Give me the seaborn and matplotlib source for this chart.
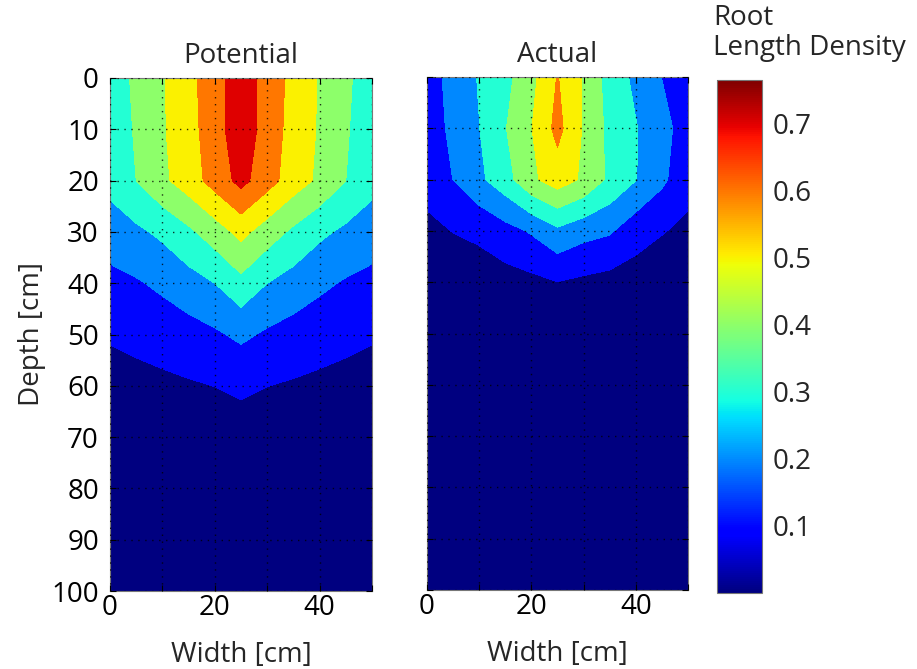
import numpy as np
import matplotlib
matplotlib.use("Agg")
import matplotlib.pyplot as plt
import seaborn as sns
from matplotlib.colors import Normalize
from matplotlib.cm import ScalarMappable

# ---------------- data ----------------
width_cm = [0, 5, 10, 15, 20, 25, 30, 35, 40, 45, 50]
depth_cm = [0, 10, 20, 30, 40, 50, 60, 70, 80, 90, 100]

potential_rld = [
    [0.34, 0.42, 0.49, 0.57, 0.66, 0.76, 0.66, 0.57, 0.49, 0.42, 0.34],
    [0.34, 0.41, 0.49, 0.56, 0.66, 0.76, 0.66, 0.56, 0.49, 0.41, 0.34],
    [0.33, 0.40, 0.48, 0.55, 0.64, 0.73, 0.64, 0.55, 0.48, 0.40, 0.33],
    [0.25, 0.28, 0.32, 0.38, 0.45, 0.53, 0.45, 0.38, 0.32, 0.28, 0.25],
    [0.17, 0.19, 0.22, 0.26, 0.30, 0.37, 0.30, 0.26, 0.22, 0.19, 0.17],
    [0.11, 0.125, 0.14, 0.16, 0.185, 0.22, 0.185, 0.16, 0.14, 0.125, 0.11],
    [0.06, 0.07, 0.08, 0.09, 0.101, 0.115, 0.101, 0.09, 0.08, 0.07, 0.06],
    [0.03, 0.035, 0.04, 0.045, 0.05, 0.06, 0.05, 0.045, 0.04, 0.035, 0.03],
    [0.02, 0.02, 0.025, 0.03, 0.03, 0.035, 0.03, 0.03, 0.025, 0.02, 0.02],
    [0.01, 0.01, 0.015, 0.015, 0.02, 0.02, 0.02, 0.015, 0.015, 0.01, 0.01],
    [0.005, 0.005, 0.008, 0.01, 0.01, 0.01, 0.01, 0.01, 0.008, 0.005, 0.005],
]

actual_rld = [
    [0.15, 0.236, 0.307, 0.37, 0.47, 0.605, 0.49, 0.357, 0.278, 0.198, 0.15],
    [0.15, 0.221, 0.298, 0.395, 0.497, 0.63, 0.49, 0.372, 0.305, 0.235, 0.15],
    [0.13, 0.201, 0.28, 0.36, 0.48, 0.55, 0.484, 0.379, 0.303, 0.22, 0.13],
    [0.08, 0.102, 0.12, 0.165, 0.21, 0.28, 0.235, 0.212, 0.14, 0.105, 0.08],
    [0.04, 0.045, 0.05, 0.06, 0.075, 0.098, 0.08, 0.065, 0.055, 0.045, 0.04],
    [0.02, 0.022, 0.025, 0.03, 0.035, 0.045, 0.035, 0.03, 0.025, 0.022, 0.02],
    [0.01, 0.012, 0.014, 0.016, 0.018, 0.022, 0.018, 0.016, 0.014, 0.012, 0.01],
    [0.006, 0.007, 0.008, 0.009, 0.01, 0.012, 0.01, 0.009, 0.008, 0.007, 0.006],
    [0.004, 0.004, 0.005, 0.005, 0.006, 0.007, 0.006, 0.005, 0.005, 0.004, 0.004],
    [0.003, 0.003, 0.003, 0.004, 0.004, 0.005, 0.004, 0.004, 0.003, 0.003, 0.003],
    [0.002, 0.002, 0.002, 0.003, 0.003, 0.003, 0.003, 0.003, 0.002, 0.002, 0.002],
]

contour_levels = [0.0, 0.1, 0.2, 0.3, 0.4, 0.5, 0.6, 0.7, 0.8]
cbar_min, cbar_max = 0.0, 0.765
cbar_ticks = [0.1, 0.2, 0.3, 0.4, 0.5, 0.6, 0.7]
panel_titles = ["Potential", "Actual"]
x_ticks = [0, 10, 20, 30, 40, 50]
x_ticklabels = ["0", "", "20", "", "40", ""]
y_ticks = [0, 10, 20, 30, 40, 50, 60, 70, 80, 90, 100]

# ---------------- style ----------------
sns.set_style("white")
plt.rcParams["font.family"] = ["Open Sans", "DejaVu Sans"]
FS = 20

jet = matplotlib.colormaps["jet"]
norm = Normalize(cbar_min, cbar_max)
band_colors = [jet(norm(lv)) for lv in contour_levels[:-1]]

W, H = 917, 669
fig = plt.figure(figsize=(W / 100, H / 100), dpi=100)
ax1 = fig.add_axes([110 / W, 1 - 591 / H, 262 / W, 513 / H])
ax2 = fig.add_axes([427 / W, 1 - 590 / H, 261 / W, 513 / H])
cax = fig.add_axes([717 / W, 1 - 593 / H, 45 / W, 513 / H])

for ax, data, title in zip([ax1, ax2], [potential_rld, actual_rld], panel_titles):
    Z = np.array(data)
    ax.contourf(width_cm, depth_cm, Z, levels=contour_levels, colors=band_colors)
    ax.set_xlim(0, 50)
    ax.set_ylim(100, 0)
    ax.set_xticks(x_ticks)
    ax.set_xticklabels(x_ticklabels, fontsize=FS)
    ax.set_yticks(y_ticks)
    ax.grid(True, color="black", linestyle=(0, (1, 4)), linewidth=1.0, alpha=0.8)
    ax.set_axisbelow(False)
    ax.tick_params(direction="in", length=4, width=0.8, top=True, right=True,
                   bottom=True, left=True, colors="black", labelsize=FS)
    ax.tick_params(axis="x", pad=2)
    ax.tick_params(axis="y", pad=8)
    for sp in ax.spines.values():
        sp.set_color("#777777")
        sp.set_linewidth(0.8)
    ax.set_title(title, fontsize=FS, pad=11)
    ax.set_xlabel("Width [cm]", fontsize=FS, labelpad=14)

ax1.set_ylabel("Depth [cm]", fontsize=FS, labelpad=4)
ax1.set_yticklabels([str(v) for v in y_ticks])
ax2.set_yticklabels([])

sm = ScalarMappable(norm=norm, cmap=jet)
cb = fig.colorbar(sm, cax=cax)
cb.set_ticks(cbar_ticks)
cb.set_ticklabels([f"{t:.1f}" for t in cbar_ticks])
cax.tick_params(direction="in", length=4, width=0.8, left=True, right=True,
                labelsize=FS, pad=8)
cb.outline.set_edgecolor("#777777")
cb.outline.set_linewidth(0.8)

fig.text(713 / W, 1 - 4 / H, "Root\nLength Density", ha="left", va="top",
         fontsize=FS, linespacing=1.1)

fig.savefig("out.png", dpi=100)
